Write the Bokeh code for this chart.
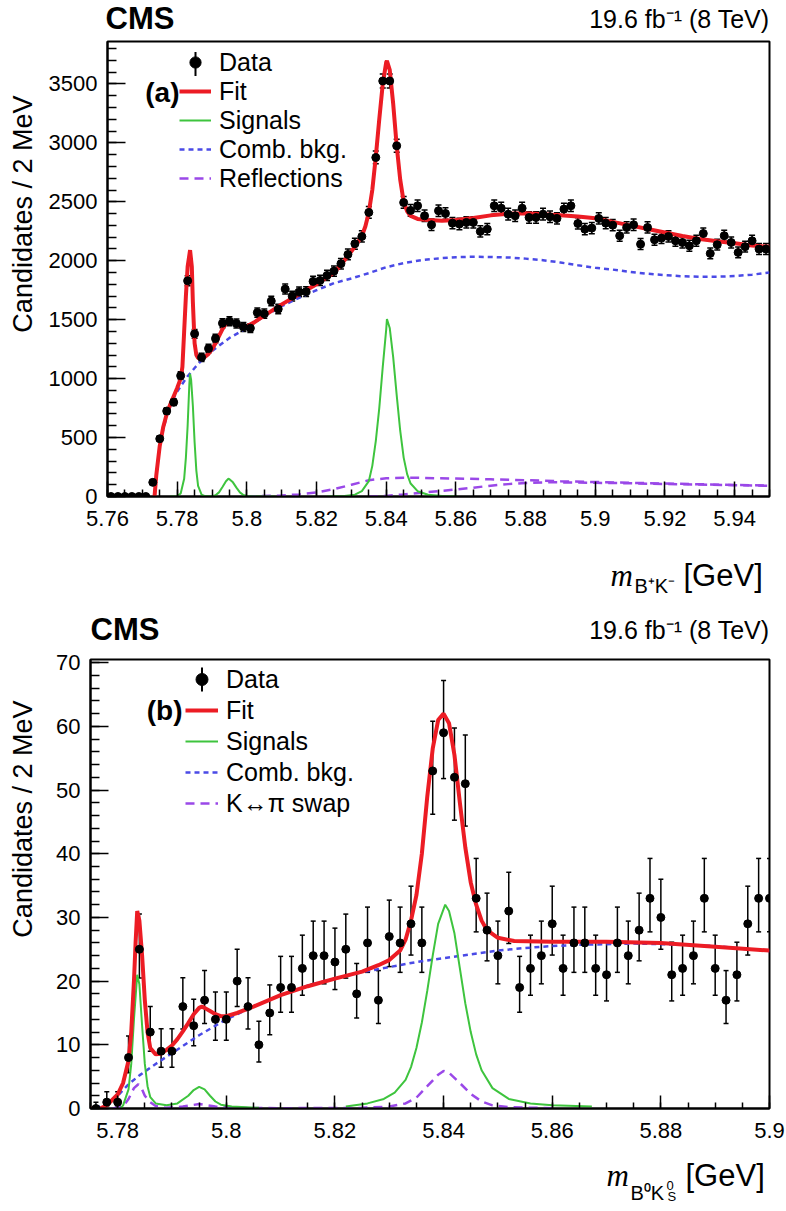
import numpy as np
from bokeh.plotting import figure
from bokeh.models import (ColumnDataSource, Whisker, TeeHead, Label, Legend, LegendItem,
                          FixedTicker, Range1d, Arrow)
from bokeh.layouts import column, row
from bokeh.embed import file_html
from bokeh.resources import INLINE

FONT = "Liberation Sans"
RED = "#ec1c24"
GREEN = "#3ec43e"
BLUE = "#4a4ae6"
PURPLE = "#9a48e8"

# ====================== Panel (a): B+ K- ======================
A_BIN_START = 5.761
A_BIN_STEP = 0.002
a_counts = [0, 0, 0, 0, 0, 0, 120, 490, 725, 800, 1025, 1830, 1380, 1180, 1255, 1340,
            1470, 1486, 1468, 1438, 1428, 1560, 1550, 1658, 1590, 1760, 1700, 1735, 1738,
            1825, 1833, 1875, 1912, 1975, 2053, 2144, 2206, 2410, 2876, 3525, 3525, 2975,
            2494, 2427, 2466, 2381, 2305, 2424, 2401, 2319, 2311, 2325, 2325, 2249, 2268,
            2466, 2446, 2395, 2381, 2446, 2367, 2367, 2395, 2373, 2359, 2438, 2466, 2316,
            2268, 2277, 2359, 2319, 2302, 2212, 2282, 2305, 2141, 2282, 2178, 2192, 2206,
            2169, 2155, 2127, 2169, 2231, 2062, 2136, 2212, 2155, 2070, 2119, 2169, 2099, 2099]

a_fit_m = [5.7735, 5.774, 5.775, 5.776, 5.777, 5.778, 5.779, 5.780, 5.781, 5.7815, 5.782,
           5.7825, 5.783, 5.7837, 5.7842, 5.7845, 5.785, 5.7855, 5.786, 5.787, 5.788, 5.789,
           5.790, 5.791, 5.792, 5.793, 5.794, 5.795, 5.796, 5.797, 5.798, 5.799, 5.800, 5.802,
           5.805, 5.810, 5.815, 5.820, 5.825, 5.827, 5.829, 5.831, 5.833, 5.834, 5.835, 5.836,
           5.837, 5.838, 5.839, 5.840, 5.8402, 5.841, 5.842, 5.843, 5.844, 5.845, 5.846, 5.847,
           5.849, 5.852, 5.856, 5.860, 5.865, 5.870, 5.875, 5.880, 5.885, 5.890, 5.895, 5.900,
           5.905, 5.910, 5.915, 5.920, 5.925, 5.930, 5.935, 5.940, 5.945, 5.950]
a_fit_y = [0, 180, 430, 590, 700, 780, 850, 920, 1000, 1100, 1400,
           1700, 1950, 2090, 1950, 1650, 1300, 1200, 1175, 1170, 1185, 1210,
           1250, 1300, 1360, 1420, 1470, 1490, 1480, 1462, 1448, 1442, 1445, 1475,
           1535, 1630, 1715, 1800, 1900, 1965, 2040, 2120, 2210, 2290, 2410, 2600,
           2880, 3200, 3500, 3685, 3695, 3620, 3330, 2975, 2690, 2500, 2420, 2380,
           2355, 2345, 2340, 2345, 2362, 2385, 2398, 2402, 2395, 2385, 2375, 2360,
           2330, 2300, 2270, 2240, 2210, 2185, 2165, 2148, 2130, 2118]

a_comb_m = [5.7735, 5.774, 5.775, 5.776, 5.777, 5.778, 5.779, 5.780, 5.781, 5.783, 5.785,
            5.787, 5.790, 5.795, 5.800, 5.805, 5.810, 5.815, 5.820, 5.825, 5.830, 5.835,
            5.840, 5.845, 5.850, 5.855, 5.860, 5.865, 5.870, 5.875, 5.880, 5.885, 5.890,
            5.895, 5.900, 5.905, 5.910, 5.915, 5.920, 5.925, 5.930, 5.935, 5.940, 5.945, 5.950]
a_comb_y = [0, 170, 420, 570, 680, 765, 835, 890, 935, 1020, 1090,
            1155, 1235, 1345, 1430, 1530, 1615, 1685, 1750, 1810, 1850, 1895,
            1945, 1980, 2005, 2020, 2030, 2034, 2032, 2028, 2018, 2005, 1985,
            1962, 1940, 1925, 1905, 1890, 1878, 1868, 1864, 1865, 1870, 1882, 1900]

a_sig1_m = [5.778, 5.780, 5.781, 5.782, 5.7825, 5.783, 5.7835, 5.7837, 5.784, 5.7845, 5.785,
            5.7855, 5.786, 5.787, 5.788, 5.790, 5.791, 5.792, 5.793, 5.794, 5.7947, 5.795,
            5.796, 5.797, 5.798, 5.799, 5.800, 5.802, 5.808]
a_sig1_y = [0, 3, 25, 150, 330, 600, 960, 1040, 990, 770, 460,
            220, 90, 15, 3, 3, 10, 35, 80, 130, 150, 147,
            120, 75, 35, 12, 4, 1, 0]

a_sig2_m = [5.823, 5.828, 5.831, 5.833, 5.835, 5.836, 5.837, 5.838, 5.839, 5.840, 5.8402,
            5.841, 5.842, 5.843, 5.844, 5.845, 5.846, 5.847, 5.849, 5.852, 5.856, 5.8605]
a_sig2_y = [0, 5, 15, 45, 130, 260, 470, 750, 1100, 1420, 1506,
            1430, 1180, 860, 560, 330, 190, 110, 45, 15, 4, 0]

a_refl1_m = [5.800, 5.810, 5.815, 5.820, 5.825, 5.830, 5.835, 5.840, 5.845, 5.850, 5.860,
             5.870, 5.880, 5.890, 5.900, 5.910, 5.920, 5.930, 5.940, 5.950]
a_refl1_y = [0, 8, 18, 35, 62, 100, 138, 155, 160, 158, 152,
             146, 138, 130, 123, 116, 110, 104, 98, 93]
a_refl2_m = [5.835, 5.840, 5.845, 5.850, 5.855, 5.860, 5.865, 5.870, 5.875, 5.880, 5.885,
             5.890, 5.900, 5.910, 5.920, 5.930, 5.940, 5.950]
a_refl2_y = [0, 5, 18, 32, 45, 60, 75, 92, 105, 115, 120,
             120, 116, 112, 106, 101, 96, 91]

a_xticks = [5.76, 5.78, 5.80, 5.82, 5.84, 5.86, 5.88, 5.90, 5.92, 5.94]
a_xtick_labels = ["5.76", "5.78", "5.8", "5.82", "5.84", "5.86", "5.88", "5.9", "5.92", "5.94"]
a_yticks = [0, 500, 1000, 1500, 2000, 2500, 3000, 3500]

# ====================== Panel (b): B0 KS ======================
B_BIN_START = 5.776
B_BIN_STEP = 0.002
b_counts = [0, 1, 1, 8, 25, 12, 9, 9, 16, 13, 17, 14, 14, 20, 16, 10, 15, 19, 19, 22, 24,
            24, 23, 25, 18, 26, 17, 27, 26, 29, 26, 53, 59, 52, 51, 33, 28, 24, 31, 19, 22,
            24, 29, 22, 26, 26, 22, 21, 26, 24, 28, 33, 30, 21, 22, 24, 33, 22, 17, 21, 29,
            33, 33]

b_fit_m = [5.775, 5.7768, 5.778, 5.780, 5.781, 5.782, 5.7825, 5.783, 5.7833, 5.7836, 5.784,
           5.7845, 5.785, 5.7855, 5.786, 5.787, 5.788, 5.789, 5.790, 5.791, 5.792, 5.793,
           5.794, 5.795, 5.7955, 5.796, 5.797, 5.798, 5.799, 5.800, 5.802, 5.805, 5.810,
           5.815, 5.820, 5.825, 5.828, 5.830, 5.832, 5.833, 5.834, 5.835, 5.836, 5.837,
           5.838, 5.839, 5.840, 5.841, 5.842, 5.843, 5.844, 5.845, 5.846, 5.847, 5.848,
           5.850, 5.853, 5.860, 5.870, 5.880, 5.890, 5.900]
b_fit_y = [0, 0, 0.5, 2.2, 4.0, 7.5, 12, 20, 26, 31, 29.5,
           24, 17, 12, 9.5, 8.5, 8.6, 9.2, 9.9, 10.9, 12.1, 13.4,
           14.8, 15.8, 16.0, 15.8, 15.3, 14.8, 14.5, 14.5, 15.0, 16.0, 17.8,
           19.2, 20.4, 21.5, 22.5, 23.3, 24.8, 26.5, 29.5, 33.5, 40, 49,
           56.5, 61, 62, 60.5, 55.5, 48, 41, 35.5, 32, 29.5, 28,
           26.8, 26.3, 26.2, 26.2, 26.0, 25.4, 24.8]

b_comb_m = [5.776, 5.778, 5.780, 5.782, 5.784, 5.787, 5.790, 5.795, 5.800, 5.805, 5.810,
            5.815, 5.820, 5.825, 5.830, 5.835, 5.840, 5.845, 5.850, 5.855, 5.860, 5.865,
            5.870, 5.875, 5.880, 5.885, 5.890, 5.895, 5.900]
b_comb_y = [0, 0.8, 2.0, 3.8, 5.2, 7.0, 8.7, 11.5, 14.0, 16.0, 17.8,
            19.3, 20.4, 21.4, 22.2, 23.0, 23.6, 24.2, 24.8, 25.2, 25.5, 25.7,
            25.8, 25.9, 25.8, 25.7, 25.5, 25.1, 24.7]

b_sig1_m = [5.7805, 5.781, 5.782, 5.7825, 5.783, 5.7836, 5.784, 5.7845, 5.785, 5.7855, 5.786,
            5.787, 5.789, 5.791, 5.793, 5.794, 5.795, 5.796, 5.797, 5.798, 5.799, 5.801, 5.806]
b_sig1_y = [0, 0.5, 3, 7, 14, 21, 19.5, 13, 7, 3.5, 1.8,
            0.8, 0.5, 0.8, 2, 2.9, 3.4, 3.0, 2.0, 1.1, 0.6, 0.3, 0.1]
b_sig2_m = [5.822, 5.826, 5.829, 5.831, 5.833, 5.834, 5.835, 5.836, 5.837, 5.838, 5.839,
            5.8403, 5.841, 5.842, 5.843, 5.844, 5.845, 5.846, 5.847, 5.849, 5.852, 5.856,
            5.860, 5.8673]
b_sig2_y = [0.3, 0.8, 1.5, 2.5, 4.5, 6.5, 9.5, 13.5, 18.5, 24, 29,
            32, 31, 27.5, 22, 16.5, 12, 8.5, 6, 3.2, 1.5, 0.8,
            0.5, 0.3]

b_swap_m = [5.779, 5.781, 5.782, 5.783, 5.7838, 5.7845, 5.785, 5.786, 5.787, 5.789, 5.792,
            5.795, 5.798, 5.802, 5.810, 5.825, 5.830, 5.833, 5.835, 5.837, 5.839, 5.840,
            5.841, 5.843, 5.845, 5.847, 5.849, 5.852, 5.860]
b_swap_y = [0, 0.3, 1.5, 3.2, 3.8, 3.0, 2.0, 1.0, 0.4, 0.1, 0.3,
            0.7, 0.3, 0.1, 0.05, 0.1, 0.3, 0.8, 1.7, 3.5, 5.3, 5.9,
            5.6, 4.0, 2.3, 1.1, 0.5, 0.2, 0.05]

b_xticks = [5.78, 5.80, 5.82, 5.84, 5.86, 5.88, 5.90]
b_xtick_labels = ["5.78", "5.8", "5.82", "5.84", "5.86", "5.88", "5.9"]
b_yticks = [0, 10, 20, 30, 40, 50, 60, 70]

LUMI = "19.6 fb\u207b\u00b9 (8 TeV)"
YTITLE = "Candidates / 2 MeV"


def poisson_interval(counts):
    n = np.asarray(counts, dtype=float)
    lo = n + 0.5 - np.sqrt(n + 0.25)
    hi = n + 0.5 + np.sqrt(n + 0.25)
    lo[n == 0] = 0.0
    hi[n == 0] = 1.0
    return lo, hi


def add_label(p, x, y, text, size, align="left", baseline="middle", style="normal",
              font=FONT, angle=0):
    p.add_layout(Label(x=x, y=y, x_units="screen", y_units="screen", text=text,
                       text_font=font, text_font_size=size, text_font_style=style,
                       text_align=align, text_baseline=baseline, text_color="black",
                       angle=angle))


def text_fig(w, h, labels, bt=0, bb=0):
    p = figure(width=w, height=h, x_range=Range1d(0, w), y_range=Range1d(0, h),
               min_border_left=0, min_border_right=0, min_border_top=bt,
               min_border_bottom=bb, toolbar_location=None, output_backend="svg",
               x_axis_location=None, y_axis_location=None)
    p.outline_line_color = None
    p.grid.visible = False
    p.background_fill_color = "white"
    p.border_fill_color = "white"
    for lab in labels:
        add_label(p, **lab)
    return p


def style_axes(p, cfg):
    for ax in (p.xaxis[0], p.yaxis[0]):
        ax.axis_line_color = "black"
        ax.axis_line_width = 2
        ax.major_tick_out = 0
        ax.minor_tick_out = 0
        ax.major_tick_line_width = 1.5
        ax.minor_tick_line_width = 1.5
        ax.major_tick_line_color = "black"
        ax.minor_tick_line_color = "black"
        ax.major_label_text_font = FONT
        ax.major_label_text_font_size = "22px"
        ax.major_label_text_color = "black"
        ax.axis_label = None
    p.xaxis.ticker = FixedTicker(ticks=cfg["xticks"], minor_ticks=cfg["xminor"])
    p.xaxis.major_label_overrides = {t: l for t, l in zip(cfg["xticks"], cfg["xlabels"])}
    p.xaxis.major_tick_in = cfg["xtick_len"]
    p.xaxis.minor_tick_in = cfg["xtick_len"] // 2
    p.xaxis.major_label_standoff = 14
    p.yaxis.ticker = FixedTicker(ticks=cfg["yticks"], minor_ticks=cfg["yminor"])
    p.yaxis.major_label_overrides = {t: str(t) for t in cfg["yticks"]}
    p.yaxis.major_tick_in = cfg["ytick_len"]
    p.yaxis.minor_tick_in = cfg["ytick_len"] // 2
    p.yaxis.major_label_standoff = 10
    p.xgrid.visible = False
    p.ygrid.visible = False
    p.outline_line_color = "black"
    p.outline_line_width = 2
    p.background_fill_color = "white"
    p.border_fill_color = "white"


def build_main(cfg):
    FW, FH = cfg["frame"]
    bl, br, bt, bb = cfg["borders"]
    p = figure(width=bl + FW + br, height=bt + FH + bb,
               x_range=Range1d(*cfg["xr"]), y_range=Range1d(*cfg["yr"]),
               output_backend="svg", toolbar_location=None,
               min_border_left=bl, min_border_right=br,
               min_border_top=bt, min_border_bottom=bb)
    style_axes(p, cfg)

    comb = p.line(cfg["comb"][0], cfg["comb"][1], line_color=BLUE, line_width=2.5,
                  line_dash="5 4")
    refl = [p.line(m, y, line_color=PURPLE, line_width=2.5, line_dash="9 6")
            for m, y in cfg["refl"]]
    sig = [p.line(m, y, line_color=GREEN, line_width=2) for m, y in cfg["sig"]]
    fit = p.line(cfg["fit"][0], cfg["fit"][1], line_color=RED, line_width=4)

    counts = cfg["counts"]
    m = [round(cfg["bin0"] + cfg["step"] * i, 4) for i in range(len(counts))]
    lo, hi = poisson_interval(counts)
    src = ColumnDataSource(data=dict(m=m, n=counts, lo=lo, hi=hi))
    p.add_layout(Whisker(source=src, base="m", lower="lo", upper="hi", dimension="height",
                         line_color="black", line_width=1.5,
                         lower_head=TeeHead(size=cfg["cap"], line_width=1.5, line_color="black"),
                         upper_head=TeeHead(size=cfg["cap"], line_width=1.5, line_color="black")))
    data = p.scatter("m", "n", source=src, marker="circle", size=8,
                     fill_color="black", line_color="black")

    gw, gh, sp, item_h = cfg["legend_geom"]
    lx, ltop = cfg["legend_topleft"]
    ly = ltop - (5 * item_h + 4 * sp)
    legend = Legend(items=[LegendItem(label="Data", renderers=[data]),
                           LegendItem(label="Fit", renderers=[fit]),
                           LegendItem(label="Signals", renderers=[sig[0]]),
                           LegendItem(label="Comb. bkg.", renderers=[comb]),
                           LegendItem(label=cfg["refl_label"], renderers=[refl[0]])],
                    location=(lx, ly), orientation="vertical", padding=0, margin=0,
                    spacing=sp, glyph_width=gw, glyph_height=gh, label_height=gh,
                    label_standoff=8, label_text_font=FONT, label_text_font_size="25px",
                    label_text_color="black", border_line_alpha=0, background_fill_alpha=0)
    p.add_layout(legend)
    cy = ltop - item_h / 2
    p.add_layout(Arrow(start=None, end=None, x_start=lx + gw / 2, y_start=cy - 12,
                       x_end=lx + gw / 2, y_end=cy + 12, start_units="screen",
                       end_units="screen", line_color="black", line_width=2))
    tx, ty, tt = cfg["panel_tag"]
    add_label(p, tx, ty, tt, "28px", align="right", baseline="middle", style="bold")
    return p


# ---------------- panel (a) ----------------
cfg_a = dict(
    frame=(664, 455), borders=(60, 17, 3, 50),
    xr=(5.76, 5.95), yr=(0, 3860),
    xticks=a_xticks, xlabels=a_xtick_labels,
    xminor=[round(5.76 + 0.005 * i, 3) for i in range(39)],
    yticks=a_yticks, yminor=list(range(0, 3900, 100)),
    xtick_len=15, ytick_len=18,
    comb=(a_comb_m, a_comb_y), refl=[(a_refl1_m, a_refl1_y), (a_refl2_m, a_refl2_y)],
    sig=[(a_sig1_m, a_sig1_y), (a_sig2_m, a_sig2_y)], fit=(a_fit_m, a_fit_y),
    counts=a_counts, bin0=A_BIN_START, step=A_BIN_STEP, cap=6,
    legend_topleft=(72, 447), legend_geom=(32, 28, 0, 28.75), refl_label="Reflections",
    panel_tag=(72, 404, "(a)"),
)
main_a = build_main(cfg_a)
head_a = text_fig(786, 38, [
    dict(x=105, y=20, text="CMS", size="31px", style="bold"),
    dict(x=769, y=20, text=LUMI, size="25px", align="right"),
])
yt_a = text_fig(45, 508, [
    dict(x=22, y=401, text=YTITLE, size="27px", align="right", angle=np.pi / 2),
], bt=3, bb=50)
foot_a = text_fig(786, 62, [
    dict(x=610, y=33, text="m", size="31px", style="italic", font="Liberation Serif"),
    dict(x=634, y=23, text="B\u207aK\u207b", size="20px"),
    dict(x=683, y=33, text="[GeV]", size="31px"),
])

# ---------------- panel (b) ----------------
cfg_b = dict(
    frame=(679, 449), borders=(45, 17, 13, 45),
    xr=(5.775, 5.9), yr=(0, 70.5),
    xticks=b_xticks, xlabels=b_xtick_labels,
    xminor=[round(5.775 + 0.005 * i, 3) for i in range(26)],
    yticks=b_yticks, yminor=list(range(0, 72, 2)),
    xtick_len=13, ytick_len=18,
    comb=(b_comb_m, b_comb_y), refl=[(b_swap_m, b_swap_y)],
    sig=[(b_sig1_m, b_sig1_y), (b_sig2_m, b_sig2_y)], fit=(b_fit_m, b_fit_y),
    counts=b_counts, bin0=B_BIN_START, step=B_BIN_STEP, cap=5,
    legend_topleft=(95, 444), legend_geom=(33, 30, 1, 30), refl_label="K\u2194\u03c0 swap",
    panel_tag=(92, 398, "(b)"),
)
main_b = build_main(cfg_b)
head_b = text_fig(786, 38, [
    dict(x=90, y=17, text="CMS", size="31px", style="bold"),
    dict(x=769, y=17, text=LUMI, size="25px", align="right"),
])
yt_b = text_fig(45, 507, [
    dict(x=22, y=408, text=YTITLE, size="27px", align="right", angle=np.pi / 2),
], bt=13, bb=45)
foot_b = text_fig(786, 50, [
    dict(x=606, y=28, text="m", size="31px", style="italic", font="Liberation Serif"),
    dict(x=630, y=11, text="B\u2070K", size="20px"),
    dict(x=666, y=18, text="0", size="13px"),
    dict(x=667, y=7, text="S", size="13px"),
    dict(x=685, y=28, text="[GeV]", size="31px"),
])

layout = column(head_a, row(yt_a, main_a, spacing=0), foot_a,
                head_b, row(yt_b, main_b, spacing=0), foot_b, spacing=0)
open("out.html", "w").write(file_html(layout, INLINE))
